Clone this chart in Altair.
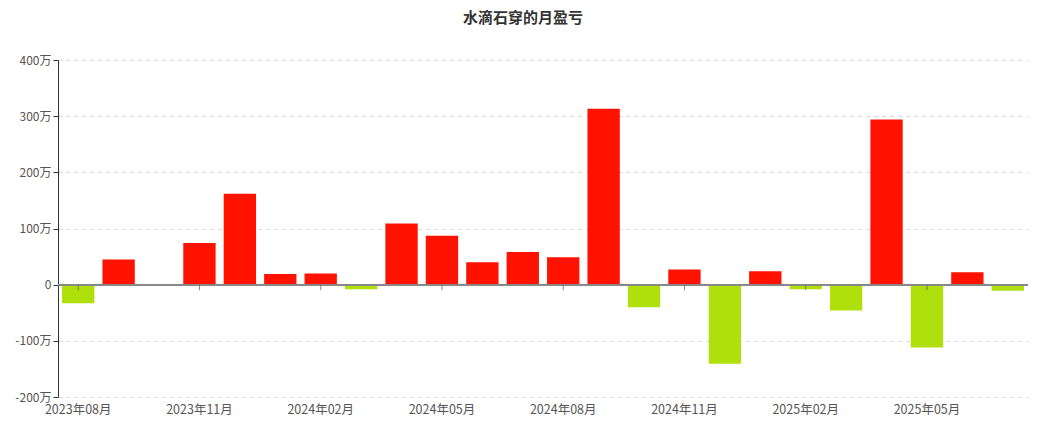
import altair as alt
import pandas as pd

months = ["2023年08月", "2023年09月", "2023年10月", "2023年11月", "2023年12月", "2024年01月",
          "2024年02月", "2024年03月", "2024年04月", "2024年05月", "2024年06月", "2024年07月",
          "2024年08月", "2024年09月", "2024年10月", "2024年11月", "2024年12月", "2025年01月",
          "2025年02月", "2025年03月", "2025年04月", "2025年05月", "2025年06月", "2025年07月"]
profit = [-33, 45, 0, 74, 162, 19, 20, -8, 109, 87, 40, 58, 49, 313, -40, 27, -141, 24,
          -8, -46, 294, -112, 22, -11]  # 万
tick_months = ["2023年08月", "2023年11月", "2024年02月", "2024年05月", "2024年08月",
               "2024年11月", "2025年02月", "2025年05月"]

df = pd.DataFrame({"month": months, "profit": profit})
df["sign"] = ["盈" if v >= 0 else "亏" for v in profit]
tdf = pd.DataFrame({"month": tick_months, "zero": [0] * len(tick_months)})

FONT = "Noto Sans CJK SC"

x = alt.X("month:N", sort=months, title=None,
          scale=alt.Scale(paddingInner=0.2, paddingOuter=0.1),
          axis=alt.Axis(values=tick_months, labelAngle=0, domain=False, ticks=False,
                        labelFontSize=12.5, labelColor="#555", labelFont=FONT, labelPadding=6))
y = alt.Y("profit:Q", title=None,
          scale=alt.Scale(domain=[-200, 400], nice=False),
          axis=alt.Axis(values=[-200, -100, 0, 100, 200, 300, 400],
                        labelExpr="datum.value == 0 ? '0' : datum.value + '万'",
                        labelFontSize=12, labelColor="#555", labelFont=FONT,
                        domainColor="#333", tickColor="#333", tickSize=5,
                        gridDash=[4, 4], gridColor="#d9d9d9"))

bars = alt.Chart(df).mark_bar().encode(
    x=x, y=y,
    color=alt.Color("sign:N", scale=alt.Scale(domain=["盈", "亏"], range=["#ff1200", "#b0e00c"]),
                    legend=None)
)

zero = alt.Chart(tdf).mark_rule(color="#888", strokeWidth=1.5).encode(
    x=alt.value(0), x2=alt.value(970), y=alt.Y("zero:Q")
)

ticks = alt.Chart(tdf).mark_tick(color="#555", orient="vertical", size=5, thickness=1,
                                 yOffset=3).encode(
    x=alt.X("month:N", sort=months), y=alt.Y("zero:Q")
)

chart = alt.layer(bars, zero, ticks).properties(
    width=970, height=337,
    title=alt.TitleParams("水滴石穿的月盈亏", fontSize=15, font=FONT, fontWeight="bold",
                          color="#333", anchor="middle", offset=28, dx=-20),
    autosize=alt.AutoSizeParams(type="none"),
    padding={"left": 50, "top": 52, "right": 7, "bottom": 23},
).configure_view(stroke=None)

chart.save("out.html", embed_options={"renderer": "svg", "actions": False})
